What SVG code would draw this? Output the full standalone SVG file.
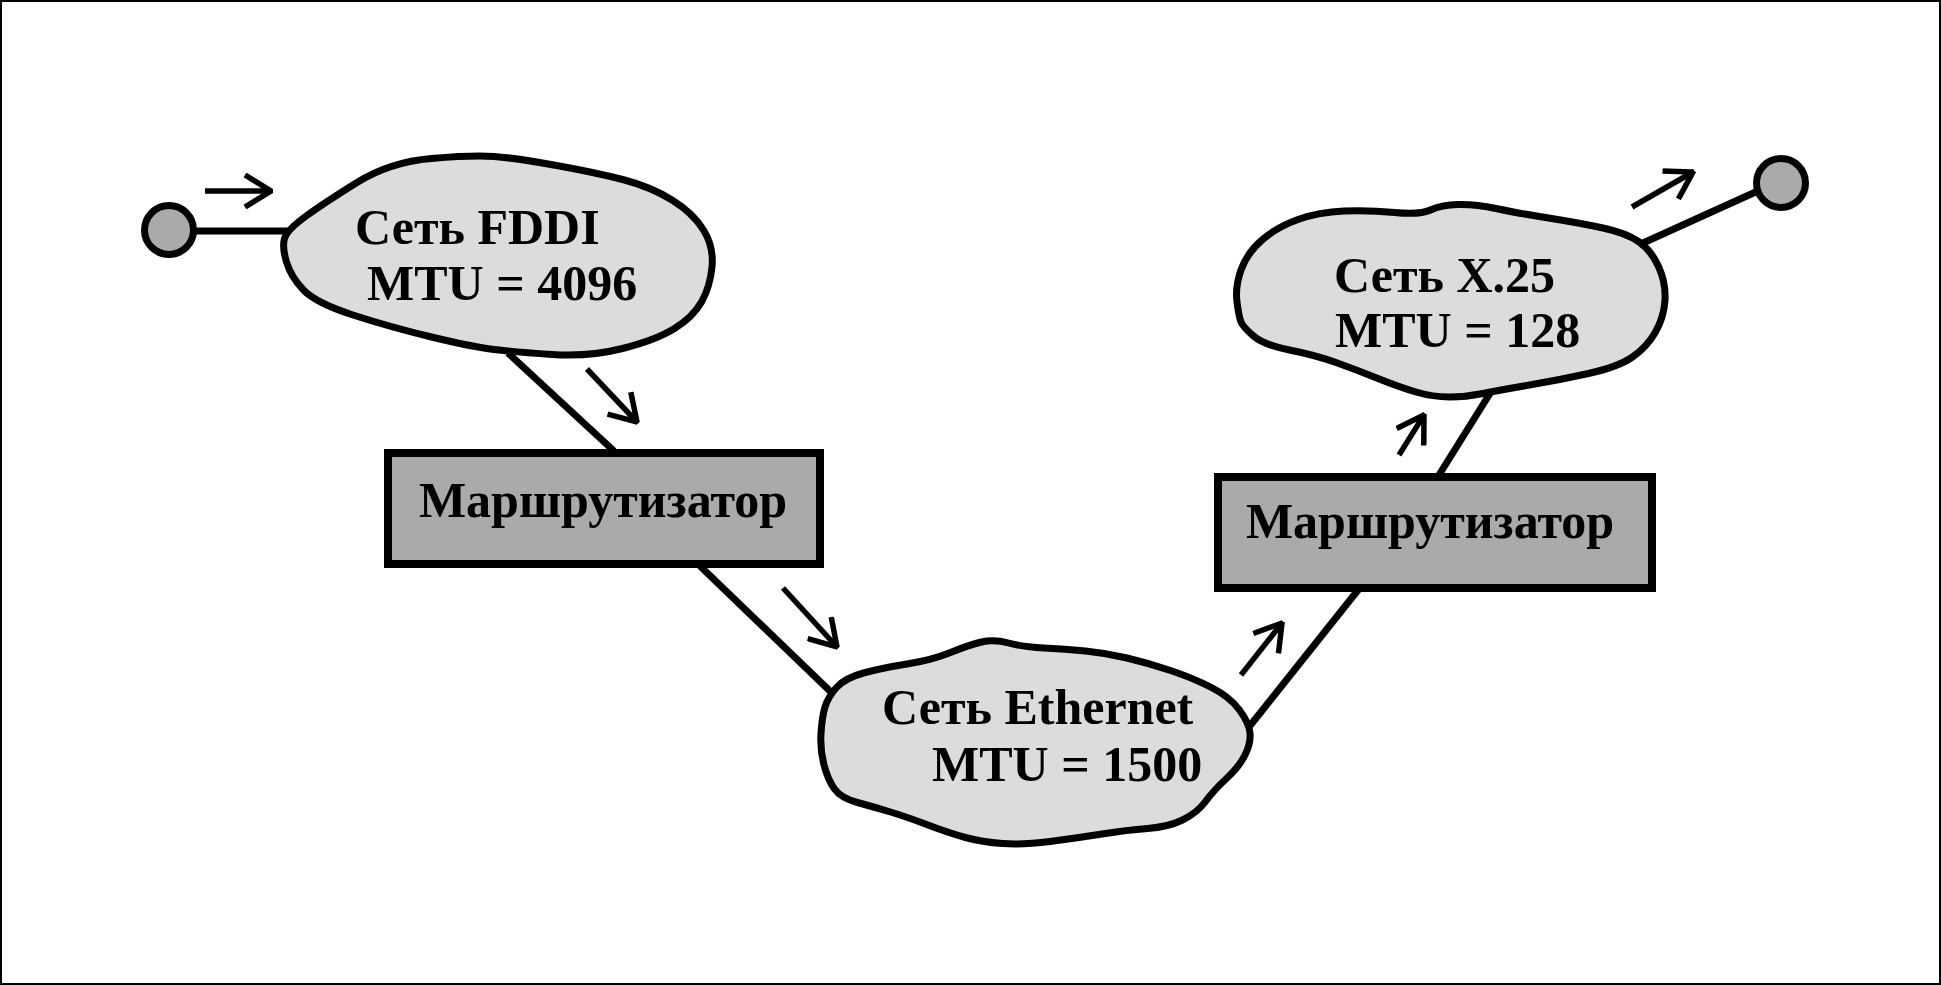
<svg xmlns="http://www.w3.org/2000/svg" width="1941" height="985" viewBox="0 0 1941 985">
<style>
.frame{fill:#fff;stroke:#000;stroke-width:2}
.conn{stroke:#000;stroke-width:7;fill:none}
.flow{stroke:#000;stroke-width:5.5;fill:none}
.cloud{fill:#dcdcdc;stroke:#000;stroke-width:7;stroke-linejoin:round}
.router{fill:#aaaaaa;stroke:#000;stroke-width:8}
.host{fill:#aaaaaa;stroke:#000;stroke-width:7}
.lbl{font-family:"Liberation Serif","Times New Roman",serif;font-weight:bold;font-size:50px;fill:#000}
</style>
<defs>
<marker id="head" markerUnits="userSpaceOnUse" viewBox="0 0 30 36" markerWidth="30" markerHeight="36" refX="28" refY="18" orient="auto">
<path d="M2,2 L28,18 L2,34" fill="none" stroke="#000" stroke-width="5.5" stroke-linejoin="miter"/>
</marker>
</defs>
<rect class="frame" x="1" y="1" width="1939" height="983"/>
<g id="connectors">
<line class="conn" x1="193" y1="231" x2="290" y2="231"/>
<line class="conn" x1="508" y1="353" x2="614" y2="451"/>
<line class="conn" x1="700" y1="566" x2="832" y2="693"/>
<line class="conn" x1="1249" y1="727" x2="1366" y2="580"/>
<line class="conn" x1="1439" y1="475" x2="1494" y2="387"/>
<line class="conn" x1="1643" y1="243" x2="1760" y2="190"/>
</g>
<g id="flow-arrows">
<line class="flow" x1="205" y1="191" x2="271" y2="191" marker-end="url(#head)"/>
<line class="flow" x1="587" y1="369" x2="637" y2="422" marker-end="url(#head)"/>
<line class="flow" x1="783" y1="588" x2="837" y2="647" marker-end="url(#head)"/>
<line class="flow" x1="1241" y1="675" x2="1282" y2="623" marker-end="url(#head)"/>
<line class="flow" x1="1399" y1="455" x2="1424" y2="415" marker-end="url(#head)"/>
<line class="flow" x1="1632" y1="207" x2="1693" y2="172" marker-end="url(#head)"/>
</g>
<g id="host-left">
<circle class="host" cx="169" cy="230" r="24.5"/>
</g>
<g id="host-right">
<circle class="host" cx="1781" cy="183" r="24.5"/>
</g>
<g id="net-fddi">
<path class="cloud" d="M284.5,238.5 Q287,230 305.5,216.5 Q324,203 357,182.5 Q390,162 431.5,158.5 Q473,155 494,156.5 Q515,158 556.5,165.5 Q598,173 624.5,180 Q651,187 672,200 Q693,213 703.5,230 Q714,247 712,267 Q710,287 701.5,302 Q693,317 674.5,328.5 Q656,340 622.5,348.5 Q589,357 552,354.5 Q515,352 494,349.5 Q473,347 431.5,337 Q390,327 353,315 Q316,303 303.5,290 Q291,277 286.5,262 Q282,247 284.5,238.5 Z"/>
<text class="lbl" x="355" y="244">Сеть FDDI</text>
<text class="lbl" x="367" y="300">MTU = 4096</text>
</g>
<g id="router-1">
<rect class="router" x="388" y="453" width="432" height="111"/>
<text class="lbl" x="603" y="517" text-anchor="middle">Маршрутизатор</text>
</g>
<g id="net-ethernet">
<path class="cloud" d="M825,707 Q828,697 836.5,687.5 Q845,678 863.5,673 Q882,668 907,664 Q932,660 950.5,652.5 Q969,645 981.5,642 Q994,639 1008.5,643 Q1023,647 1044,648 Q1065,649 1085.5,651 Q1106,653 1127,658 Q1148,663 1170.5,670.5 Q1193,678 1211.5,687.5 Q1230,697 1239.5,710 Q1249,723 1250,733 Q1251,743 1245,755 Q1239,767 1226.5,778.5 Q1214,790 1205.5,801.5 Q1197,813 1182.5,820 Q1168,827 1147.5,828.5 Q1127,830 1102,834 Q1077,838 1050,841.5 Q1023,845 1002.5,843.5 Q982,842 965.5,837.5 Q949,833 928,825 Q907,817 890.5,812 Q874,807 857.5,802.5 Q841,798 834.5,789 Q828,780 824,765 Q820,750 821,733.5 Q822,717 825,707 Z"/>
<text class="lbl" x="882" y="724">Сеть Ethernet</text>
<text class="lbl" x="932" y="781">MTU = 1500</text>
</g>
<g id="router-2">
<rect class="router" x="1218" y="477" width="434" height="111"/>
<text class="lbl" x="1430" y="538" text-anchor="middle">Маршрутизатор</text>
</g>
<g id="net-x25">
<path class="cloud" d="M1241,322 Q1239,317 1237,302 Q1235,287 1241,270 Q1247,253 1262,240 Q1277,227 1298,219.5 Q1319,212 1344,211 Q1369,210 1394.5,212.5 Q1420,215 1430.5,210 Q1441,205 1458,204.5 Q1475,204 1496,208.5 Q1517,213 1548.5,218 Q1580,223 1603,228 Q1626,233 1638.5,241.5 Q1651,250 1658.5,266.5 Q1666,283 1665,300 Q1664,317 1655.5,332 Q1647,347 1632.5,357 Q1618,367 1588.5,373.5 Q1559,380 1529.5,385 Q1500,390 1483,393.5 Q1466,397 1449.5,397 Q1433,397 1416,392 Q1399,387 1378,378.5 Q1357,370 1336,362.5 Q1315,355 1289.5,350 Q1264,345 1253.5,336 Q1243,327 1241,322 Z"/>
<text class="lbl" x="1334" y="292">Сеть X.25</text>
<text class="lbl" x="1335" y="347">MTU = 128</text>
</g>
</svg>
